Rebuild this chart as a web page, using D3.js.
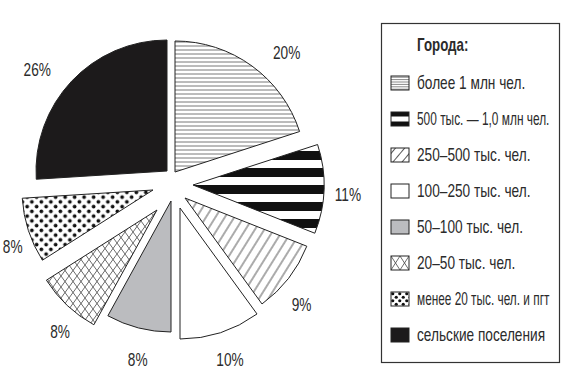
<!DOCTYPE html>
<html>
<head>
<meta charset="utf-8">
<script src="https://cdn.jsdelivr.net/npm/d3@7"></script>
<style>
  body { margin: 0; background: #fff; }
  text { font-family: "Liberation Sans Narrow", "Arial Narrow", "Liberation Sans", Arial, sans-serif; fill: #2b2b2b; }
</style>
</head>
<body>
<svg id="chart" width="569" height="384"></svg>
<script>
// данные
const legendTitle = "Города:";
const categories = [
  "более 1 млн чел.",
  "500 тыс. — 1,0 млн чел.",
  "250–500 тыс. чел.",
  "100–250 тыс. чел.",
  "50–100 тыс. чел.",
  "20–50 тыс. чел.",
  "менее 20 тыс. чел. и пгт",
  "сельские поселения"
];
// доли по часовой стрелке от 12 часов
const shares = [20, 11, 9, 10, 8, 8, 8, 26];

// оформление
const fills = ["hlines", "stripes", "diag", "white", "gray", "cross", "dots", "black"];
const explode = [[3, -8], [21, 5], [13, 18], [8, 28], [-1, 21], [-15, 30], [-19, 10], [-5, -9]];
const labelNudge = [[10, 17], [-2, 9], [-11, 16], [3, 11], [10, 7], [10, 22], [10, 12], [-5, 12]];

const W = 569, H = 384;
const cx = 172, cy = 180, R = 131, labelR = 178;
const squeeze = 0.76; // узкий шрифт как в оригинале

const svg = d3.select("#chart");
svg.append("rect").attr("width", W).attr("height", H).attr("fill", "#fff");
const defs = svg.append("defs");

// рисует содержимое узора
function patternContent(p, kind, w, h, big) {
  p.append("rect").attr("width", w).attr("height", h).attr("fill", "#fff");
  if (kind === "hlines") {
    const step = big ? 4 : 2.4;
    for (let y = step / 2; y < h; y += step) {
      p.append("line").attr("x1", 0).attr("x2", w).attr("y1", y).attr("y2", y)
        .attr("stroke", "#555").attr("stroke-width", big ? 0.8 : 0.7);
    }
  } else if (kind === "stripes") {
    if (big) {
      p.append("rect").attr("y", 0).attr("width", w).attr("height", 9).attr("fill", "#111");
    } else {
      p.append("rect").attr("y", 0).attr("width", w).attr("height", 4.5).attr("fill", "#111");
      p.append("rect").attr("y", h - 4.5).attr("width", w).attr("height", 4.5).attr("fill", "#111");
    }
  } else if (kind === "diag") {
    p.append("line").attr("x1", w / 2).attr("x2", w / 2).attr("y1", -2).attr("y2", h + 2)
      .attr("stroke", "#444").attr("stroke-width", 0.9);
  } else if (kind === "gray") {
    p.select("rect").attr("fill", "#bbbcbf");
  } else if (kind === "cross") {
    p.append("line").attr("x1", 0).attr("y1", 0).attr("x2", w).attr("y2", h)
      .attr("stroke", "#444").attr("stroke-width", 0.8);
    p.append("line").attr("x1", w).attr("y1", 0).attr("x2", 0).attr("y2", h)
      .attr("stroke", "#444").attr("stroke-width", 0.8);
  } else if (kind === "dots") {
    const r = big ? 1.9 : 1.6;
    [[w / 4, h / 4], [3 * w / 4, 3 * h / 4]].forEach(([x, y]) => {
      p.append("circle").attr("cx", x).attr("cy", y).attr("r", r).attr("fill", "#111");
    });
  } else if (kind === "black") {
    p.select("rect").attr("fill", "#1c1a1b");
  }
}

const tileSize = {
  hlines: [8, 4], stripes: [17, 17], diag: [8, 20], white: [4, 4],
  gray: [4, 4], cross: [8, 11], dots: [9.5, 9.5], black: [4, 4]
};

fills.forEach(kind => {
  const [w, h] = tileSize[kind];
  const p = defs.append("pattern")
    .attr("id", "pie-" + kind)
    .attr("patternUnits", "userSpaceOnUse")
    .attr("width", w).attr("height", h);
  if (kind === "diag") p.attr("patternTransform", "rotate(32)");
  patternContent(p, kind, w, h, true);
});

// круговая диаграмма
const pie = d3.pie().sort(null).value(d => d)(shares);
const arc = d3.arc().innerRadius(0).outerRadius(R);
const labelArc = d3.arc().innerRadius(labelR).outerRadius(labelR);

const pieG = svg.append("g").attr("transform", `translate(${cx},${cy})`);

pieG.selectAll("path.slice")
  .data(pie)
  .join("path")
  .attr("class", "slice")
  .attr("transform", (d, i) => `translate(${explode[i][0]},${explode[i][1]})`)
  .attr("d", arc)
  .attr("fill", (d, i) => `url(#pie-${fills[i]})`)
  .attr("stroke", "#222")
  .attr("stroke-width", 1)
  .attr("stroke-linejoin", "miter");

pieG.selectAll("text.pct")
  .data(pie)
  .join("text")
  .attr("class", "pct")
  .attr("transform", (d, i) => {
    const [x, y] = labelArc.centroid(d);
    return `translate(${x + labelNudge[i][0]},${y + labelNudge[i][1]}) scale(0.76,1)`;
  })
  .attr("text-anchor", "middle")
  .attr("dominant-baseline", "central")
  .style("font-size", "18px")
  .text(d => d.data + "%");

// легенда
const legend = svg.append("g");
const box = { x: 381.5, y: 23.5, w: 178, h: 339 };
legend.append("rect")
  .attr("x", box.x).attr("y", box.y)
  .attr("width", box.w).attr("height", box.h)
  .attr("fill", "#fff").attr("stroke", "#333").attr("stroke-width", 1.2);

legend.append("text")
  .attr("transform", `translate(417,45) scale(0.74,1)`)
  .attr("dominant-baseline", "central")
  .style("font-size", "18px").style("font-weight", "bold")
  .text(legendTitle);

const rowY = d3.scalePoint().domain(categories).range([83, 335]);
const swW = 18, swH = 14, swX = 391, textX = 417;
const maxTextW = box.x + box.w - 10 - textX;

categories.forEach((c, i) => {
  const y = rowY(c) - swH / 2;
  const kind = fills[i];
  const p = defs.append("pattern")
    .attr("id", "leg-" + i)
    .attr("patternUnits", "userSpaceOnUse")
    .attr("x", swX)
    .attr("y", y);
  if (kind === "diag") {
    p.attr("width", 7).attr("height", 24).attr("patternTransform", `rotate(40 ${swX} ${y})`);
    patternContent(p, kind, 7, 24, false);
  } else if (kind === "cross") {
    p.attr("width", 9).attr("height", 14);
    patternContent(p, kind, 9, 14, false);
  } else if (kind === "dots") {
    p.attr("width", 7).attr("height", 7);
    patternContent(p, kind, 7, 7, false);
  } else {
    p.attr("width", swW).attr("height", swH);
    patternContent(p, kind, swW, swH, false);
  }
  legend.append("rect")
    .attr("x", swX).attr("y", y)
    .attr("width", swW).attr("height", swH)
    .attr("fill", `url(#leg-${i})`)
    .attr("stroke", "#222").attr("stroke-width", 1);
  const t = legend.append("text")
    .attr("dominant-baseline", "central")
    .style("font-size", "18px")
    .text(c);
  const natural = t.node().getComputedTextLength();
  const s = Math.min(squeeze, maxTextW / natural);
  t.attr("transform", `translate(${textX},${rowY(c)}) scale(${s},1)`);
});
</script>
</body>
</html>
